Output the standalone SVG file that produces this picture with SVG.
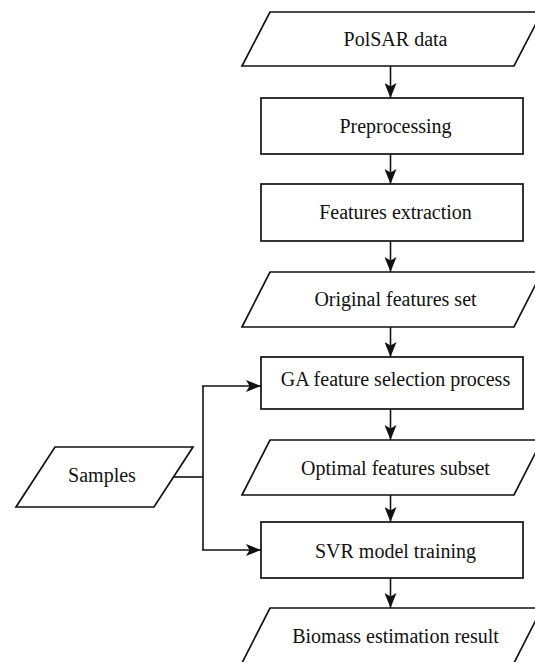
<svg xmlns="http://www.w3.org/2000/svg" width="535" height="662" viewBox="0 0 535 662">
<style>
.n{fill:#fff;stroke:#111;stroke-width:1.7}
.t{font-family:"Liberation Serif","Times New Roman",serif;font-size:20px;fill:#111;text-anchor:middle}
.c{fill:none;stroke:#111;stroke-width:1.6}
</style>
<defs>
<marker id="ah" markerUnits="userSpaceOnUse" viewBox="0 0 15 12" refX="15" refY="6" markerWidth="15" markerHeight="12" orient="auto">
<path d="M0,0 L15,6 L0,12 L3.5,6 z" fill="#111"/>
</marker>
</defs>
<rect width="535" height="662" fill="#fff"/>
<g id="connectors">
<path class="c" d="M390.5,66 V98" marker-end="url(#ah)"/>
<path class="c" d="M390.5,154 V184" marker-end="url(#ah)"/>
<path class="c" d="M390.5,241 V272" marker-end="url(#ah)"/>
<path class="c" d="M390.5,327 V357" marker-end="url(#ah)"/>
<path class="c" d="M390.5,409 V440" marker-end="url(#ah)"/>
<path class="c" d="M390.5,495 V522" marker-end="url(#ah)"/>
<path class="c" d="M390.5,578 V608" marker-end="url(#ah)"/>
<path class="c" d="M173.5,477 H203"/>
<path class="c" d="M203,386 V550"/>
<path class="c" d="M202.2,386 H261" marker-end="url(#ah)"/>
<path class="c" d="M202.2,550 H261" marker-end="url(#ah)"/>
</g>
<g id="polsar">
<polygon class="n" points="270,12 542,12 514,66 242,66"/>
<text class="t" x="395.5" y="46">PolSAR data</text>
</g>
<g id="preprocessing">
<rect class="n" x="261" y="98" width="262" height="56"/>
<text class="t" x="395.5" y="133">Preprocessing</text>
</g>
<g id="extraction">
<rect class="n" x="261" y="184" width="262" height="57"/>
<text class="t" x="395.5" y="219">Features extraction</text>
</g>
<g id="original">
<polygon class="n" points="270,272 542,272 514,327 242,327"/>
<text class="t" x="395.5" y="306">Original features set</text>
</g>
<g id="ga">
<rect class="n" x="261" y="357" width="262" height="52"/>
<text class="t" x="395.5" y="386">GA feature selection process</text>
</g>
<g id="optimal">
<polygon class="n" points="270,440 542,440 514,495 242,495"/>
<text class="t" x="395.5" y="475">Optimal features subset</text>
</g>
<g id="svr">
<rect class="n" x="261" y="522" width="262" height="56"/>
<text class="t" x="395.5" y="558">SVR model training</text>
</g>
<g id="biomass">
<polygon class="n" points="270,608 542,608 514,663 242,663"/>
<text class="t" x="395.5" y="643">Biomass estimation result</text>
</g>
<g id="samples">
<polygon class="n" points="55,447 193,447 154,507 16,507"/>
<text class="t" x="102" y="482">Samples</text>
</g>
</svg>
